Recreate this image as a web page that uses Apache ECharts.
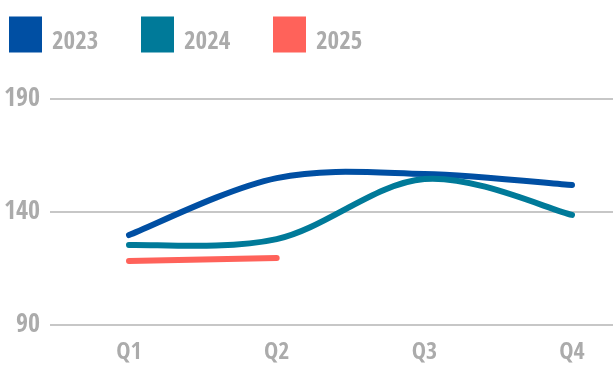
<!DOCTYPE html>
<html>
<head>
<meta charset="utf-8">
<script src="https://cdn.jsdelivr.net/npm/echarts@6/dist/echarts.min.js"></script>
<style>html,body{margin:0;padding:0;background:#fff}#c{width:613px;height:365px}</style>
</head>
<body>
<div id="c"></div>
<script>
const categories = ['Q1', 'Q2', 'Q3', 'Q4'];
const seriesNames = ['2023', '2024', '2025'];
const values2023 = [129.8, 155, 156.8, 151.9];
const values2024 = [125.4, 128, 154.6, 138.7];
const values2025 = [118.3, 119.6];
const yTicks = { min: 90, max: 190, interval: 50 };

const colors = ['#004FA3', '#007A99', '#FF625A'];
const FONT = '"Open Sans Condensed", "Roboto Condensed", sans-serif';
const GRAY = '#ABABAB';
const legendLefts = [9, 141, 273];

const chart = echarts.init(document.getElementById('c'), null, { renderer: 'canvas' });
const allValues = [values2023, values2024, values2025];

// Smooth (Catmull-Rom style, tension 1/6) path through points mapped by the axes
function splinePath(pts) {
  let d = 'M' + pts[0][0] + ' ' + pts[0][1];
  for (let i = 0; i < pts.length - 1; i++) {
    const p0 = pts[Math.max(i - 1, 0)];
    const p1 = pts[i];
    const p2 = pts[i + 1];
    const p3 = pts[Math.min(i + 2, pts.length - 1)];
    const c1x = p1[0] + (p2[0] - p0[0]) / 6, c1y = p1[1] + (p2[1] - p0[1]) / 6;
    const c2x = p2[0] - (p3[0] - p1[0]) / 6, c2y = p2[1] - (p3[1] - p1[1]) / 6;
    d += ' C' + c1x + ' ' + c1y + ' ' + c2x + ' ' + c2y + ' ' + p2[0] + ' ' + p2[1];
  }
  return d;
}

const labelStyle = { color: GRAY, fontFamily: FONT, fontWeight: 'bold' };

chart.setOption({
  animation: false,
  color: colors,
  legend: seriesNames.map((name, i) => ({
    left: legendLefts[i], top: 14, padding: 0,
    icon: 'rect',
    itemWidth: 33, itemHeight: 36,
    formatter: '{t|{name}}',
    textStyle: Object.assign({
      fontSize: 25,
      rich: { t: Object.assign({ fontSize: 25, lineHeight: 22, padding: [16, 0, 0, 5] }, labelStyle) }
    }, labelStyle),
    data: [name]
  })),
  grid: [
    { left: 50, right: 0, top: 99, bottom: 40 },
    { left: 129, right: 41, top: 99, bottom: 40 }
  ],
  xAxis: [
    { type: 'value', gridIndex: 0, show: false, min: 0, max: 1 },
    {
      type: 'category', gridIndex: 1, data: categories, boundaryGap: false,
      axisLine: { show: false }, axisTick: { show: false }, splitLine: { show: false },
      axisLabel: Object.assign({ fontSize: 24, margin: 16 }, labelStyle)
    }
  ],
  yAxis: [
    {
      type: 'value', gridIndex: 0, min: yTicks.min, max: yTicks.max, interval: yTicks.interval,
      axisLine: { show: false }, axisTick: { show: false },
      splitLine: { lineStyle: { color: '#B4B4B4', width: 1.5 } },
      axisLabel: Object.assign({ fontSize: 26, margin: 10 }, labelStyle)
    },
    {
      type: 'value', gridIndex: 1, min: yTicks.min, max: yTicks.max, interval: yTicks.interval,
      show: false, splitLine: { show: false }
    }
  ],
  series: seriesNames.map((name, i) => ({
    name: name,
    type: 'custom',
    xAxisIndex: 1, yAxisIndex: 1,
    clip: false,
    itemStyle: { color: colors[i] },
    encode: { x: 0, y: 1 },
    data: allValues[i].map((v, k) => [k, v]),
    renderItem: function (params, api) {
      if (params.dataIndex !== 0) return null;
      const pts = allValues[i].map((v, k) => api.coord([k, v]));
      return {
        type: 'path',
        shape: { pathData: splinePath(pts) },
        style: { fill: null, stroke: colors[i], lineWidth: 6, lineCap: 'round', lineJoin: 'round' }
      };
    }
  }))
});
</script>
</body>
</html>
